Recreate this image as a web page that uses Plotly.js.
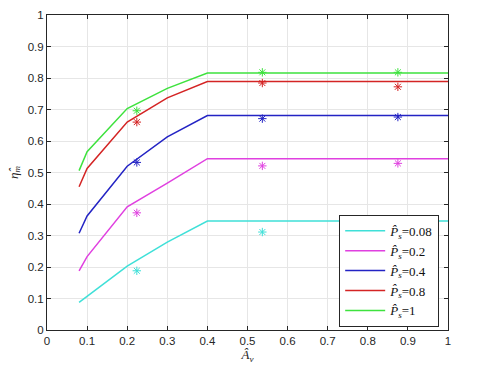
<!DOCTYPE html>
<html>
<head>
<meta charset="utf-8">
<script src="https://cdn.plot.ly/plotly-3.0.1.min.js"></script>
<style>
  html, body { margin: 0; padding: 0; background: #fff; }
  #plot { width: 480px; height: 372px; }
</style>
</head>
<body>
<div id="plot"></div>
<script>
// curve abscissae
var av = [0.08, 0.1, 0.2, 0.3, 0.4, 1.0];

// model curves, one per Ps
var eta008 = [0.088, 0.107, 0.203, 0.279, 0.346, 0.346];
var eta02  = [0.188, 0.233, 0.391, 0.466, 0.544, 0.544];
var eta04  = [0.307, 0.362, 0.520, 0.613, 0.681, 0.681];
var eta08  = [0.455, 0.513, 0.660, 0.737, 0.789, 0.789];
var eta1   = [0.506, 0.566, 0.703, 0.767, 0.816, 0.816];

// measured points (asterisks)
var avMeas = [0.224, 0.537, 0.875];
var meas008 = [0.188, 0.311];
var meas02  = [0.372, 0.521, 0.529];
var meas04  = [0.532, 0.671, 0.676];
var meas08  = [0.660, 0.784, 0.772];
var meas1   = [0.696, 0.818, 0.818];

var labels = ["0.08", "0.2", "0.4", "0.8", "1"];
var colors = ["#3fe0d8", "#e040e0", "#2323c4", "#d42424", "#3ee23e"];
var curves = [eta008, eta02, eta04, eta08, eta1];
var points = [meas008, meas02, meas04, meas08, meas1];

var data = [];
for (var i = 0; i < curves.length; i++) {
    data.push({
        x: av,
        y: curves[i],
        mode: 'lines',
        type: 'scatter',
        line: { color: colors[i], width: 1.5 },
        name: '<i>P&#770;</i><sub><i>s</i></sub>=' + labels[i]
    });
}
for (var i = 0; i < points.length; i++) {
    data.push({
        x: avMeas.slice(0, points[i].length),
        y: points[i],
        mode: 'markers',
        type: 'scatter',
        marker: { symbol: 'asterisk-open', size: 7, color: colors[i], line: { color: colors[i], width: 1 } },
        showlegend: false
    });
}

var tickFont = { family: 'Liberation Sans, Arial, sans-serif', size: 11.5, color: '#262626' };

var layout = {
    width: 480,
    height: 372,
    margin: { l: 47, r: 32, t: 15, b: 42 },
    paper_bgcolor: '#fff',
    plot_bgcolor: '#fff',
    showlegend: true,
    xaxis: {
        range: [0, 1],
        tickvals: [0, 0.1, 0.2, 0.3, 0.4, 0.5, 0.6, 0.7, 0.8, 0.9, 1],
        ticktext: ['0', '0.1', '0.2', '0.3', '0.4', '0.5', '0.6', '0.7', '0.8', '0.9', '1'],
        ticks: 'inside',
        ticklen: 4,
        tickcolor: '#262626',
        showline: true,
        linecolor: '#262626',
        linewidth: 1,
        mirror: 'ticks',
        showgrid: true,
        gridcolor: '#e6e6e6',
        zeroline: false,
        tickfont: tickFont,
        title: { text: '<i>Â</i><sub><i>v</i></sub>', font: { family: 'Liberation Serif, Times New Roman, serif', size: 13, color: '#262626' }, standoff: 4 }
    },
    yaxis: {
        range: [0, 1],
        tickvals: [0, 0.1, 0.2, 0.3, 0.4, 0.5, 0.6, 0.7, 0.8, 0.9, 1],
        ticktext: ['0', '0.1', '0.2', '0.3', '0.4', '0.5', '0.6', '0.7', '0.8', '0.9', '1'],
        ticks: 'inside',
        ticklen: 4,
        tickcolor: '#262626',
        showline: true,
        linecolor: '#262626',
        linewidth: 1,
        mirror: 'ticks',
        showgrid: true,
        gridcolor: '#e6e6e6',
        zeroline: false,
        tickfont: tickFont,
        title: { text: '<i>η&#770;</i><sub><i>m</i></sub>', font: { family: 'Liberation Serif, Times New Roman, serif', size: 13, color: '#262626' }, standoff: 6 }
    },
    legend: {
        x: 0.978,
        y: 0.01,
        xanchor: 'right',
        yanchor: 'bottom',
        bgcolor: '#fff',
        bordercolor: '#262626',
        borderwidth: 1,
        font: { family: 'Liberation Serif, Times New Roman, serif', size: 13, color: '#111' },
        tracegroupgap: 0,
        itemwidth: 40
    }
};

Plotly.newPlot('plot', data, layout, { displayModeBar: false, staticPlot: true });
</script>
</body>
</html>
